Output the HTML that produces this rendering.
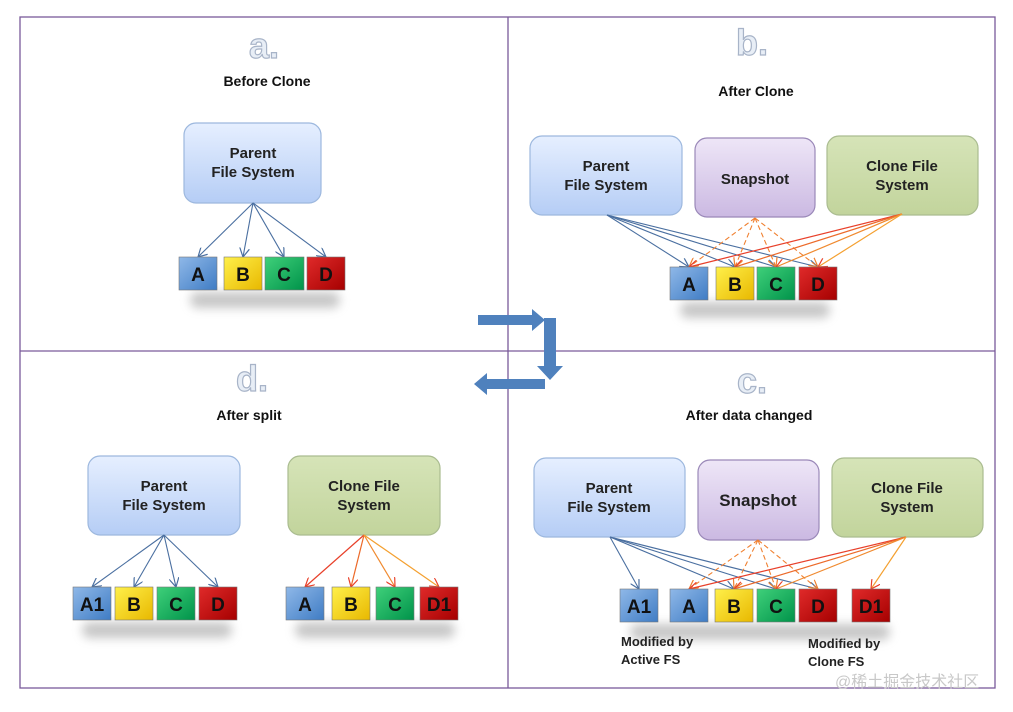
<!DOCTYPE html><html><head><meta charset="utf-8"><style>body{margin:0;background:#fff}svg{display:block}text{font-family:"Liberation Sans","Noto Sans CJK SC",sans-serif}</style></head><body>
<svg width="1013" height="712" viewBox="0 0 1013 712" xmlns="http://www.w3.org/2000/svg">
<defs>
<linearGradient id="gp" x1="0" y1="0" x2="0" y2="1"><stop offset="0" stop-color="#e6efff"/><stop offset="1" stop-color="#b5cdf5"/></linearGradient>
<linearGradient id="gs" x1="0" y1="0" x2="0" y2="1"><stop offset="0" stop-color="#eee6f7"/><stop offset="1" stop-color="#cbb9e2"/></linearGradient>
<linearGradient id="gc" x1="0" y1="0" x2="0" y2="1"><stop offset="0" stop-color="#d6e4b8"/><stop offset="1" stop-color="#c2d49c"/></linearGradient>
<linearGradient id="qa" x1="0" y1="0" x2="1" y2="1"><stop offset="0" stop-color="#8fb8e8"/><stop offset="1" stop-color="#3f7cc4"/></linearGradient>
<linearGradient id="qb" x1="0" y1="0" x2="1" y2="1"><stop offset="0" stop-color="#fff04a"/><stop offset="1" stop-color="#e8b800"/></linearGradient>
<linearGradient id="qc" x1="0" y1="0" x2="1" y2="1"><stop offset="0" stop-color="#3fd07a"/><stop offset="1" stop-color="#00934a"/></linearGradient>
<linearGradient id="qd" x1="0" y1="0" x2="1" y2="1"><stop offset="0" stop-color="#e02a2a"/><stop offset="1" stop-color="#a50000"/></linearGradient>
<marker id="mb" markerWidth="10" markerHeight="10" refX="9" refY="5" orient="auto" markerUnits="userSpaceOnUse"><path d="M0,0 L9,5 L0,10" fill="none" stroke="#4a6fa0" stroke-width="1.2"/></marker>
<marker id="mo" markerWidth="10" markerHeight="10" refX="9" refY="5" orient="auto" markerUnits="userSpaceOnUse"><path d="M0,0 L9,5 L0,10" fill="none" stroke="#f08030" stroke-width="1.2"/></marker>
<marker id="mr" markerWidth="10" markerHeight="10" refX="9" refY="5" orient="auto" markerUnits="userSpaceOnUse"><path d="M0,0 L9,5 L0,10" fill="none" stroke="#e8402a" stroke-width="1.2"/></marker>
<filter id="sh" x="-20%" y="-20%" width="140%" height="160%"><feGaussianBlur stdDeviation="5"/></filter>
</defs>
<rect x="20" y="17" width="975" height="671" fill="none" stroke="#7a5a9a" stroke-width="1.3"/>
<line x1="508" y1="17" x2="508" y2="688" stroke="#7a5a9a" stroke-width="1.3"/>
<line x1="20" y1="351" x2="995" y2="351" stroke="#7a5a9a" stroke-width="1.3"/>
<g font-size="36" font-weight="bold" fill="#e8eef6" stroke="#a8b4c8" stroke-width="1.2" text-anchor="middle">
<text x="264" y="58">a.</text><text x="752" y="55">b.</text><text x="252" y="391">d.</text><text x="752" y="393">c.</text></g>
<g font-size="14" font-weight="bold" fill="#111" text-anchor="middle">
<text x="267" y="86">Before   Clone</text><text x="756" y="96">After  Clone</text><text x="249" y="420">After split</text><text x="749" y="420">After data changed</text></g>
<!-- shadows -->
<g fill="#999" opacity="0.55" filter="url(#sh)">
<rect x="190" y="292" width="150" height="16" rx="8"/><rect x="680" y="302" width="150" height="16" rx="8"/>
<rect x="82" y="622" width="150" height="16" rx="8"/><rect x="295" y="622" width="160" height="16" rx="8"/>
<rect x="630" y="624" width="260" height="16" rx="8"/></g>
<!-- boxes -->
<g stroke-width="1.2" font-size="15" font-weight="bold" fill="#222" text-anchor="middle">
<rect x="184" y="123" width="137" height="80" rx="12" fill="url(#gp)" stroke="#9db8de"/>
<rect x="530" y="136" width="152" height="79" rx="12" fill="url(#gp)" stroke="#9db8de"/>
<rect x="695" y="138" width="120" height="79" rx="12" fill="url(#gs)" stroke="#9a88b8"/>
<rect x="827" y="136" width="151" height="79" rx="12" fill="url(#gc)" stroke="#aabc90"/>
<rect x="88" y="456" width="152" height="79" rx="12" fill="url(#gp)" stroke="#9db8de"/>
<rect x="288" y="456" width="152" height="79" rx="12" fill="url(#gc)" stroke="#aabc90"/>
<rect x="534" y="458" width="151" height="79" rx="12" fill="url(#gp)" stroke="#9db8de"/>
<rect x="698" y="460" width="121" height="80" rx="12" fill="url(#gs)" stroke="#9a88b8"/>
<rect x="832" y="458" width="151" height="79" rx="12" fill="url(#gc)" stroke="#aabc90"/>
</g>
<g font-size="15" font-weight="bold" fill="#222" text-anchor="middle" stroke="none">
<text x="253" y="158">Parent</text><text x="253" y="177">File System</text>
<text x="606" y="171">Parent</text><text x="606" y="190">File System</text>
<text x="755" y="184">Snapshot</text>
<text x="902" y="171">Clone File</text><text x="902" y="190">System</text>
<text x="164" y="491">Parent</text><text x="164" y="510">File System</text>
<text x="364" y="491">Clone File</text><text x="364" y="510">System</text>
<text x="609" y="493">Parent</text><text x="609" y="512">File System</text>
<text x="758" y="506" font-size="17">Snapshot</text>
<text x="907" y="493">Clone File</text><text x="907" y="512">System</text>
</g>
<!-- connectors a -->
<g stroke="#4a6fa0" stroke-width="1.1" fill="none" marker-end="url(#mb)">
<path d="M253 203L198 257"/><path d="M253 203L243 257"/><path d="M253 203L284 257"/><path d="M253 203L326 257"/>
<path d="M607 215L689 267"/><path d="M607 215L735 267"/><path d="M607 215L776 267"/><path d="M607 215L818 267"/>
<path d="M164 535L92 587"/><path d="M164 535L134 587"/><path d="M164 535L176 587"/><path d="M164 535L218 587"/>
<path d="M610 537L639 589"/><path d="M610 537L734 589"/><path d="M610 537L776 589"/><path d="M610 537L818 589"/>
</g>
<g stroke="#f08030" stroke-width="1.1" fill="none" stroke-dasharray="5,3" marker-end="url(#mo)">
<path d="M755 218L689 267"/><path d="M755 218L735 267"/><path d="M755 218L776 267"/><path d="M755 218L818 267"/>
<path d="M758 540L689 589"/><path d="M758 540L734 589"/><path d="M758 540L776 589"/><path d="M758 540L818 589"/>
</g>
<g stroke-width="1.2" fill="none" marker-end="url(#mr)">
<path d="M902 214L689 267" stroke="#e8402a"/><path d="M902 214L735 267" stroke="#ec6a2a"/><path d="M902 214L776 267" stroke="#f08a30"/><path d="M902 214L818 267" stroke="#f4a030"/>
<path d="M364 535L305 587" stroke="#e8402a"/><path d="M364 535L351 587" stroke="#ec6a2a"/><path d="M364 535L395 587" stroke="#f08a30"/><path d="M364 535L439 587" stroke="#f4a030"/>
<path d="M906 537L689 589" stroke="#e8402a"/><path d="M906 537L734 589" stroke="#ec6a2a"/><path d="M906 537L776 589" stroke="#f08a30"/><path d="M906 537L871 589" stroke="#f4a030"/>
</g>
<!-- squares -->
<g font-size="19" font-weight="bold" fill="#111" text-anchor="middle" stroke="#777" stroke-width="0.6">
<rect x="179" y="257" width="38" height="33" fill="url(#qa)"/><rect x="224" y="257" width="38" height="33" fill="url(#qb)"/><rect x="265" y="257" width="39" height="33" fill="url(#qc)"/><rect x="307" y="257" width="38" height="33" fill="url(#qd)"/>
<rect x="670" y="267" width="38" height="33" fill="url(#qa)"/><rect x="716" y="267" width="38" height="33" fill="url(#qb)"/><rect x="757" y="267" width="38" height="33" fill="url(#qc)"/><rect x="799" y="267" width="38" height="33" fill="url(#qd)"/>
<rect x="73" y="587" width="38" height="33" fill="url(#qa)"/><rect x="115" y="587" width="38" height="33" fill="url(#qb)"/><rect x="157" y="587" width="38" height="33" fill="url(#qc)"/><rect x="199" y="587" width="38" height="33" fill="url(#qd)"/>
<rect x="286" y="587" width="38" height="33" fill="url(#qa)"/><rect x="332" y="587" width="38" height="33" fill="url(#qb)"/><rect x="376" y="587" width="38" height="33" fill="url(#qc)"/><rect x="420" y="587" width="38" height="33" fill="url(#qd)"/>
<rect x="620" y="589" width="38" height="33" fill="url(#qa)"/><rect x="670" y="589" width="38" height="33" fill="url(#qa)"/><rect x="715" y="589" width="38" height="33" fill="url(#qb)"/><rect x="757" y="589" width="38" height="33" fill="url(#qc)"/><rect x="799" y="589" width="38" height="33" fill="url(#qd)"/><rect x="852" y="589" width="38" height="33" fill="url(#qd)"/>
</g>
<g font-size="19" font-weight="bold" fill="#111" text-anchor="middle">
<text x="198" y="281">A</text><text x="243" y="281">B</text><text x="284" y="281">C</text><text x="326" y="281">D</text>
<text x="689" y="291">A</text><text x="735" y="291">B</text><text x="776" y="291">C</text><text x="818" y="291">D</text>
<text x="92" y="611">A1</text><text x="134" y="611">B</text><text x="176" y="611">C</text><text x="218" y="611">D</text>
<text x="305" y="611">A</text><text x="351" y="611">B</text><text x="395" y="611">C</text><text x="439" y="611">D1</text>
<text x="639" y="613">A1</text><text x="689" y="613">A</text><text x="734" y="613">B</text><text x="776" y="613">C</text><text x="818" y="613">D</text><text x="871" y="613">D1</text>
</g>
<g font-size="13" font-weight="bold" fill="#222">
<text x="621" y="646">Modified  by</text><text x="621" y="664">Active FS</text>
<text x="808" y="648">Modified by</text><text x="808" y="666">Clone FS</text></g>
<!-- block arrows -->
<g fill="#4f81bd">
<path d="M478 315H532V309L545 320L532 331V325H478Z"/>
<path d="M544 318H556V366H563L550 380L537 366H544Z"/>
<path d="M545 379V389H487V395L474 384L487 373V379Z"/>
</g>
<text x="835" y="687" font-size="16" fill="#c8c8c8">@稀土掘金技术社区</text>
</svg></body></html>
